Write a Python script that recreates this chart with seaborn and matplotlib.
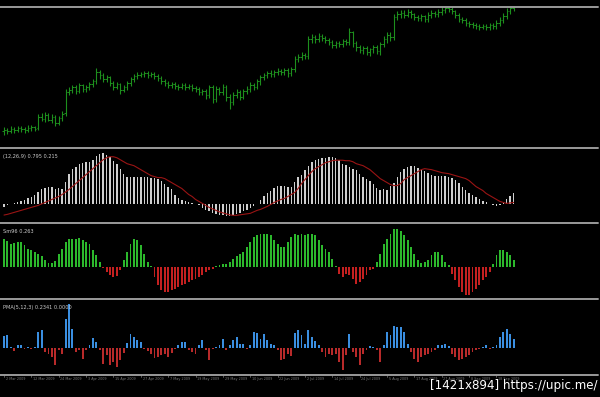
import numpy as np
import pandas as pd
import matplotlib
matplotlib.use("Agg")
import matplotlib.pyplot as plt
import seaborn as sns

# --- price bars (arbitrary price units) ---
opens = [16, 17, 16, 18, 17, 19, 18, 17, 19, 20,
         19, 30, 28, 32, 27, 30, 24, 29, 34, 55,
         57, 60, 56, 62, 58, 60, 63, 66, 75, 72,
         68, 70, 64, 60, 63, 57, 60, 64, 68, 71,
         72, 73, 74, 72, 73, 71, 69, 66, 64, 62,
         63, 61, 60, 62, 60, 61, 59, 58, 55, 56,
         52, 60, 48, 58, 55, 60, 50, 45, 52, 55,
         50, 56, 58, 62, 60, 66, 70, 72, 74, 73,
         75, 76, 75, 77, 74, 78, 88, 90, 92, 91,
         108, 110, 108, 111, 109, 107, 105, 102, 104, 103,
         106, 105, 115, 104, 100, 97, 99, 95, 98, 100,
         96, 103, 108, 112, 110, 130, 133, 134, 132, 135,
         133, 130, 129, 131, 128, 132, 134, 133, 135, 137,
         139, 138, 136, 132, 128, 127, 124, 123, 122, 121,
         120, 121, 120, 122, 121, 124, 127, 131, 136, 139]
closes = [17, 16, 18, 17, 19, 18, 17, 19, 20, 18,
          30, 28, 32, 27, 30, 24, 29, 33, 55, 57,
          60, 56, 62, 58, 60, 63, 66, 75, 72, 68,
          70, 64, 60, 63, 57, 60, 64, 68, 71, 72,
          73, 74, 72, 73, 71, 69, 66, 64, 62, 63,
          61, 60, 62, 60, 61, 59, 58, 55, 56, 52,
          60, 48, 58, 55, 60, 50, 45, 52, 55, 50,
          56, 58, 62, 60, 66, 70, 72, 74, 73, 75,
          76, 75, 77, 74, 78, 88, 90, 92, 91, 108,
          110, 108, 111, 109, 107, 105, 102, 104, 103, 106,
          105, 115, 104, 100, 97, 99, 95, 98, 100, 96,
          103, 108, 112, 110, 130, 133, 134, 132, 135, 133,
          130, 129, 131, 128, 132, 134, 133, 135, 137, 139,
          138, 136, 132, 128, 127, 124, 123, 122, 121, 120,
          121, 120, 122, 121, 124, 127, 131, 136, 139, 140]
highs = [20, 19, 21, 20, 21, 21, 20, 22, 22, 21,
         33, 34, 35, 34, 33, 32, 31, 36, 58, 60,
         62, 62, 64, 63, 62, 65, 68, 79, 77, 74,
         72, 71, 66, 65, 64, 62, 66, 70, 73, 75,
         75, 76, 76, 75, 75, 73, 71, 68, 66, 65,
         65, 63, 64, 64, 63, 63, 61, 60, 58, 58,
         62, 62, 61, 60, 63, 62, 53, 55, 58, 57,
         58, 61, 65, 64, 68, 72, 74, 76, 77, 77,
         79, 78, 79, 79, 80, 91, 93, 95, 94, 111,
         113, 112, 114, 113, 111, 109, 107, 106, 106, 108,
         108, 119, 116, 106, 102, 101, 101, 99, 102, 102,
         105, 111, 115, 115, 133, 136, 137, 137, 138, 137,
         134, 132, 133, 132, 135, 137, 136, 138, 140, 142,
         142, 140, 137, 134, 130, 129, 126, 125, 124, 123,
         123, 123, 124, 124, 127, 130, 134, 139, 142, 142]
lows = [12, 13, 14, 14, 15, 15, 14, 15, 16, 16,
        17, 26, 25, 26, 24, 21, 22, 26, 31, 52,
        54, 53, 54, 55, 55, 57, 60, 63, 68, 65,
        65, 61, 57, 58, 53, 55, 57, 61, 65, 68,
        70, 70, 69, 70, 68, 66, 63, 61, 59, 59,
        58, 57, 58, 57, 58, 56, 55, 52, 52, 48,
        49, 44, 45, 52, 52, 46, 38, 42, 49, 47,
        48, 53, 55, 57, 58, 62, 67, 69, 70, 70,
        72, 72, 72, 70, 71, 75, 85, 87, 88, 88,
        104, 104, 105, 106, 104, 102, 99, 99, 100, 100,
        102, 102, 100, 96, 94, 93, 92, 91, 94, 93,
        92, 100, 104, 106, 107, 127, 129, 129, 130, 129,
        127, 126, 126, 125, 125, 129, 130, 130, 132, 134,
        135, 133, 129, 125, 124, 121, 120, 119, 118, 117,
        118, 117, 117, 118, 118, 121, 124, 128, 133, 136]

# --- MACD histogram and signal line ---
macd = [-3, -1, 0.5, 1, 2, 3, 4, 6, 7, 9,
        13, 16, 17, 18, 18, 16, 17, 16, 23, 31,
        36, 38, 41, 42, 43, 43, 45, 49, 51, 52,
        50, 48, 44, 41, 36, 31, 28, 28, 28, 28,
        28, 28, 28, 27, 27, 26, 24, 21, 18, 16,
        9, 6, 4, 3, 2, 1, 0.5, -1, -4, -6,
        -7, -9, -10, -11, -11, -12, -12, -11, -10, -9,
        -7, -6, -4, -2, 0.5, 4, 8, 11, 14, 17,
        19, 19, 19, 18, 18, 23, 28, 30, 35, 39,
        43, 45, 46, 47, 47, 48, 48, 47, 45, 41,
        40, 38, 36, 35, 31, 28, 26, 24, 21, 17,
        15, 16, 15, 19, 22, 28, 33, 36, 38, 39,
        39, 37, 35, 34, 32, 30, 29, 29, 29, 29,
        28, 27, 25, 22, 18, 15, 12, 9, 7, 5,
        3, 2, 0.5, -1, -1.5, -1, 2, 5, 8, 11]
signal = [-10.7, -10, -9, -8, -7, -6, -5, -4, -3, -2,
          -1, 0.5, 2, 3.5, 5, 6.5, 8, 10, 12.5, 15,
          18, 21, 24, 27, 30, 33, 36, 39, 42, 45,
          47, 48, 48, 47, 45, 43, 41, 40, 39, 37,
          35, 33, 31, 29, 28, 27, 27, 26, 24, 22,
          20, 18, 16, 13, 10, 8, 5, 3, 1, -1,
          -3, -4.5, -6, -7.5, -8.5, -9.5, -10.5, -11, -11, -10.5,
          -10, -9.5, -9, -7.5, -6, -5, -3.5, -2, 0, 2,
          3.5, 5, 6, 8, 10, 12, 16, 21, 25, 29,
          33, 36, 38, 40, 42, 43, 44, 44.5, 44.5, 44.5,
          44, 44, 43, 41, 40, 39, 37, 35, 32, 29,
          26, 24, 22, 20, 19, 19, 21, 25, 27, 29,
          31, 33, 35, 36, 35.5, 35, 34, 33, 32, 31.5,
          31, 30, 29, 28, 27, 26, 24, 21, 18, 16,
          14, 11, 9, 7, 5, 3, 2, 1, 1.5, 2]

# --- oscillator (green above zero, red below) ---
osc = [28, 26, 23, 24, 25, 25, 22, 18, 17, 15,
       13, 11, 7, 4, 4, 6, 13, 18, 25, 28,
       28, 28, 29, 27, 25, 23, 17, 12, 5, -1,
       -5, -8, -10, -9, -3, 7, 15, 23, 28, 27,
       22, 13, 5, 1, -10, -18, -23, -25, -25, -23,
       -22, -20, -18, -17, -15, -13, -12, -10, -8, -5,
       -3, -2, 1, 2, 3, 3, 5, 8, 11, 13,
       15, 20, 25, 30, 32, 33, 33, 33, 32, 27,
       23, 20, 20, 25, 30, 33, 32, 33, 32, 33,
       33, 32, 27, 22, 18, 15, 8, 0.5, -7, -10,
       -7, -8, -12, -17, -15, -12, -8, -3, -2, 5,
       13, 23, 28, 33, 38, 38, 36, 32, 27, 20,
       13, 7, 4, 5, 7, 12, 15, 15, 12, 5,
       2, -7, -13, -20, -25, -28, -28, -25, -22, -18,
       -13, -10, -5, 3, 12, 17, 17, 15, 12, 7]

# --- PMA histogram (blue above zero, red below) ---
pma = [12, 13, 1, -3, 3, 3, -1, 1, -1, 1,
       16, 18, -4, -6, -9, -17, -2, -6, 29, 44,
       19, -4, -2, -11, -2, 3, 10, 6, -2, -16,
       -7, -17, -14, -19, -12, -5, 5, 14, 11, 8,
       6, -1, -3, -6, -10, -9, -7, -6, -9, -5,
       -1, 3, 6, 6, -2, -4, -6, 3, 8, -2,
       -12, -1, 1, 3, 9, -2, 3, 8, 11, 4,
       4, -1, 3, 16, 15, 9, 14, 8, 4, 3,
       -2, -12, -11, -6, -8, 15, 18, 13, 4, 18,
       11, 7, 3, -4, -9, -6, -7, -6, -14, -22,
       -7, 14, -4, -9, -17, -6, -2, 2, 1, -2,
       -14, 3, 16, 13, 22, 21, 21, 16, 4, -4,
       -11, -14, -9, -7, -6, -4, -2, 3, 3, 4,
       2, -6, -9, -12, -11, -9, -7, -4, -2, -1,
       1, 3, -1, 1, 3, 11, 16, 19, 14, 9]

panel_labels = ["(12,26,9) 0.795 0.215", "Sm96 0.263", "PMA(5,12,3) 0.2341 0.0000"]
time_labels = ["2 Mar 2009", "12 Mar 2009", "24 Mar 2009", "3 Apr 2009", "15 Apr 2009",
               "27 Apr 2009", "7 May 2009", "19 May 2009", "29 May 2009", "10 Jun 2009",
               "22 Jun 2009", "2 Jul 2009", "14 Jul 2009", "24 Jul 2009", "5 Aug 2009",
               "17 Aug 2009", "27 Aug 2009", "8 Sep 2009", "18 Sep 2009"]

n = len(closes)
idx = np.arange(n)

sns.set_theme(style="dark", rc={"axes.facecolor": "black", "figure.facecolor": "black",
                                "savefig.facecolor": "black"})
plt.rcParams["font.family"] = ["DejaVu Sans"]

W, H = 600, 397
fig = plt.figure(figsize=(6.0, 3.97), dpi=100)


def make_ax(top, bottom):
    return fig.add_axes([0, 1 - bottom / H, 1, (bottom - top) / H])


ax1 = make_ax(7, 147)
ax2 = make_ax(148.5, 222)
ax3 = make_ax(223.5, 298)
ax4 = make_ax(299.5, 374)

xlim = (-4 / 3.42, (W - 4) / 3.42)

# price OHLC bars
bar_col = "#1d8f1d"
ax1.vlines(idx, lows, highs, color=bar_col, lw=0.8)
ax1.hlines(opens, idx - 0.45, idx, color=bar_col, lw=0.7)
ax1.hlines(closes, idx, idx + 0.45, color=bar_col, lw=0.7)
ax1.set_ylim(0, 140)

# MACD
df_macd = pd.DataFrame({"i": idx, "v": macd, "s": signal})
sns.barplot(data=df_macd, x="i", y="v", color="#cfcfcf", saturation=1, width=0.42,
            native_scale=True, errorbar=None, linewidth=0, ax=ax2)
sns.lineplot(data=df_macd, x="i", y="s", color="#9a1414", lw=0.8, ax=ax2)
ax2.set_ylim(-17.7, 56.3)

# oscillator
df_osc = pd.DataFrame({"i": idx, "v": osc})
df_osc["side"] = np.where(df_osc["v"] >= 0, "up", "down")
sns.barplot(data=df_osc, x="i", y="v", hue="side", palette={"up": "#2cb82c", "down": "#c42020"},
            saturation=1, width=0.55, dodge=False, native_scale=True, errorbar=None,
            legend=False, linewidth=0, ax=ax3)
ax3.set_ylim(-31.3, 43.7)

# PMA
df_pma = pd.DataFrame({"i": idx, "v": pma})
df_pma["side"] = np.where(df_pma["v"] >= 0, "up", "down")
sns.barplot(data=df_pma, x="i", y="v", hue="side", palette={"up": "#3a8ee0", "down": "#b82a2a"},
            saturation=1, width=0.55, dodge=False, native_scale=True, errorbar=None,
            legend=False, linewidth=0, ax=ax4)
ax4.set_ylim(-26.5, 48.5)

for ax in (ax1, ax2, ax3, ax4):
    ax.set_xlim(*xlim)
    ax.set_axis_off()

for ax, lab in zip((ax2, ax3, ax4), panel_labels):
    ax.text(0.005, 0.93, lab, transform=ax.transAxes, color="#cccccc", fontsize=3.6,
            va="top", ha="left")

# separator lines between windows
for yy in (7, 147.5, 222.5, 298.5, 374.5):
    fig.add_artist(plt.Line2D([0, 598 / W], [1 - yy / H] * 2, color="#9a9a9a", lw=1.4))

# time axis labels
for k, lab in enumerate(time_labels):
    pos = 8 * k
    ax4.plot([pos, pos], [-0.01, -0.045], transform=ax4.get_xaxis_transform(),
             color="#7a7a7a", lw=0.5, clip_on=False)
    ax4.text(pos + 0.5, -0.035, lab, transform=ax4.get_xaxis_transform(), color="#7a7a7a",
             fontsize=2.4, ha="left", va="top", clip_on=False)

fig.text(597 / W, 1 - 386 / H, "[1421x894] https://upic.me/", color="white",
         fontsize=8.6, ha="right", va="center", family=["DejaVu Sans"])

fig.savefig("out.png", dpi=100, facecolor="black")
